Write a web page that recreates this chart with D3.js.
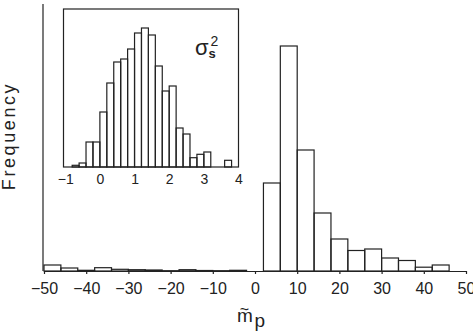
<!DOCTYPE html>
<html>
    <head>
        <meta charset="utf-8">
        <title>Frequency of m_p</title>
        <script src="https://d3js.org/d3.v7.min.js"></script>
    </head>
    <style>
        body { margin: 0; background: #fff; }
        text { font-family: "Liberation Sans", Arial, sans-serif; fill: #222; }
    </style>
    <body>
        <div id="chart"></div>

        <script>
            // main histogram: bins of width 4 starting at -50
            var MAIN_BIN_START = -50;
            var MAIN_BIN_WIDTH = 4;
            var mainCounts = [6, 3, 0.7, 3.3, 1.7, 1.3, 1, 0.3, 1.3, 0.5, 0.3, 0.7, 0,
                              88, 225, 121, 58, 32, 20.5, 22, 13, 10.5, 3.8, 6];
            var mainTicks = [-50, -40, -30, -20, -10, 0, 10, 20, 30, 40, 50];

            // inset histogram (sigma_s^2): bins of width 0.2 starting at -0.8
            var INSET_BIN_START = -0.8;
            var INSET_BIN_WIDTH = 0.2;
            var insetCounts = [1.7, 4, 25, 25, 55, 84, 105, 108, 118, 134, 139, 132,
                               101, 76, 81, 39, 33, 9.3, 12.7, 15, 0, 0, 6.7];
            var insetTicks = [-1, 0, 1, 2, 3, 4];

            var width = 473, height = 334;
            var stroke = "#222";

            var svg = d3.select("#chart")
                .append("svg")
                .attr("width", width)
                .attr("height", height);

            function fmt(v) { return v < 0 ? "\u2212" + Math.abs(v) : "" + v; }

            // ---- main plot
            var x = d3.scaleLinear().domain([-50, 50]).range([44, 466]);
            var y = d3.scaleLinear().domain([0, 267]).range([271, 4]);

            var mainBins = mainCounts.map(function(c, i) {
                return {x0: MAIN_BIN_START + i * MAIN_BIN_WIDTH, x1: MAIN_BIN_START + (i + 1) * MAIN_BIN_WIDTH, n: c};
            }).filter(function(d) { return d.n > 0; });

            svg.append("g").selectAll("rect")
                .data(mainBins)
                .enter().append("rect")
                .attr("x", function(d) { return x(d.x0); })
                .attr("width", function(d) { return x(d.x1) - x(d.x0); })
                .attr("y", function(d) { return y(d.n); })
                .attr("height", function(d) { return y(0) - y(d.n); })
                .attr("fill", "none")
                .attr("stroke", stroke)
                .attr("stroke-width", 1.2);

            // bottom axis
            var xAxis = svg.append("g")
                .attr("transform", "translate(0," + y(0) + ")")
                .call(d3.axisBottom(x).tickValues(mainTicks).tickSize(3).tickSizeOuter(0).tickFormat(fmt));
            xAxis.select(".domain").attr("stroke", stroke).attr("stroke-width", 1.2);
            xAxis.selectAll(".tick line").attr("stroke", stroke).attr("stroke-width", 1.2);
            xAxis.selectAll(".tick text")
                .attr("y", 0).attr("dy", null)
                .attr("transform", "translate(0,22.5)")
                .style("font-size", "16px")
                .style("font-family", "Liberation Sans, Arial, sans-serif")
                .attr("fill", stroke);

            // left axis, only the line
            svg.append("line")
                .attr("x1", 43).attr("x2", 43)
                .attr("y1", y(267)).attr("y2", y(0))
                .attr("stroke", stroke)
                .attr("stroke-width", 1.2);

            // axis titles
            svg.append("text")
                .attr("transform", "translate(15,136) rotate(-90)")
                .attr("text-anchor", "middle")
                .style("font-size", "18px")
                .style("letter-spacing", "2.6px")
                .text("Frequency");

            svg.append("text")
                .attr("x", 244.5).attr("y", 315)
                .attr("text-anchor", "middle")
                .style("font-size", "16px")
                .text("~");
            svg.append("text")
                .attr("x", 237).attr("y", 322)
                .style("font-size", "19px")
                .text("m");
            svg.append("text")
                .attr("x", 254.5).attr("y", 327)
                .style("font-size", "19px")
                .text("p");

            // ---- inset
            var ix = d3.scaleLinear().domain([-1.05, 4]).range([63.5, 238.5]);
            var iy = d3.scaleLinear().domain([0, 158]).range([167, 9]);

            svg.append("rect")
                .attr("x", ix(-1.05)).attr("y", iy(158))
                .attr("width", ix(4) - ix(-1.05))
                .attr("height", iy(0) - iy(158))
                .attr("fill", "#fff")
                .attr("stroke", stroke)
                .attr("stroke-width", 1.2);

            var insetBins = insetCounts.map(function(c, i) {
                return {x0: INSET_BIN_START + i * INSET_BIN_WIDTH, x1: INSET_BIN_START + (i + 1) * INSET_BIN_WIDTH, n: c};
            }).filter(function(d) { return d.n > 0; });

            svg.append("g").selectAll("rect")
                .data(insetBins)
                .enter().append("rect")
                .attr("x", function(d) { return ix(d.x0); })
                .attr("width", function(d) { return ix(d.x1) - ix(d.x0); })
                .attr("y", function(d) { return iy(d.n); })
                .attr("height", function(d) { return iy(0) - iy(d.n); })
                .attr("fill", "none")
                .attr("stroke", stroke)
                .attr("stroke-width", 1.2);

            var ixAxis = svg.append("g")
                .attr("transform", "translate(0," + iy(0) + ")")
                .call(d3.axisBottom(ix).tickValues(insetTicks).tickSize(0).tickFormat(fmt));
            ixAxis.select(".domain").remove();
            ixAxis.selectAll(".tick text")
                .attr("y", 0).attr("dy", null)
                .attr("transform", "translate(0,17)")
                .style("font-size", "14px")
                .style("font-family", "Liberation Sans, Arial, sans-serif")
                .attr("fill", stroke);

            // sigma_s^2 label
            svg.append("text").attr("x", 195).attr("y", 55).style("font-size", "22px").text("\u03c3");
            svg.append("text").attr("x", 208.5).attr("y", 58).style("font-size", "13px").style("font-weight", "bold").text("s");
            svg.append("text").attr("x", 210.5).attr("y", 46).style("font-size", "14px").text("2");
        </script>
    </body>
</html>
